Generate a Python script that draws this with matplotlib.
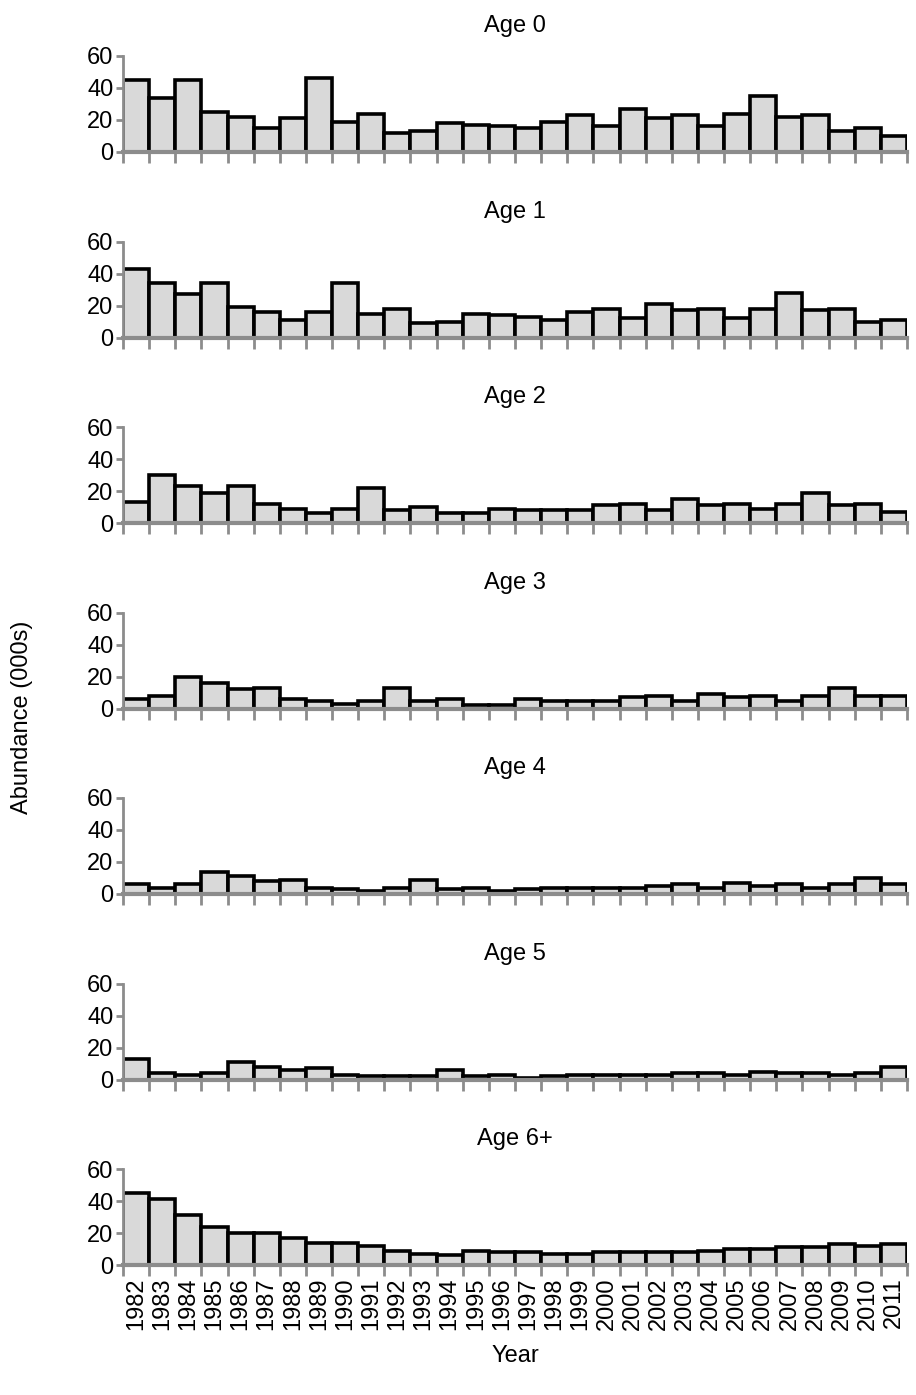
import numpy as np
import matplotlib
matplotlib.use("Agg")
import matplotlib.pyplot as plt

years = list(range(1982, 2012))
ages = ["Age 0", "Age 1", "Age 2", "Age 3", "Age 4", "Age 5", "Age 6+"]
age0 = [45, 34, 45, 25, 22, 15, 21, 46, 19, 24, 12, 13, 18, 17, 16, 15, 19, 23, 16, 27, 21, 23, 16, 24, 35, 22, 23, 13, 15, 10]
age1 = [43, 34, 27, 34, 19, 16, 11, 16, 34, 15, 18, 9, 10, 15, 14, 13, 11, 16, 18, 12, 21, 17, 18, 12, 18, 28, 17, 18, 10, 11]
age2 = [13, 30, 23, 19, 23, 12, 9, 6, 9, 22, 8, 10, 6, 6, 9, 8, 8, 8, 11, 12, 8, 15, 11, 12, 9, 12, 19, 11, 12, 7]
age3 = [6, 8, 20, 16, 12, 13, 6, 5, 3, 5, 13, 5, 6, 2, 2, 6, 5, 5, 5, 7, 8, 5, 9, 7, 8, 5, 8, 13, 8, 8]
age4 = [6, 4, 6, 14, 11, 8, 9, 4, 3, 2, 4, 9, 3, 4, 2, 3, 4, 4, 4, 4, 5, 6, 4, 7, 5, 6, 4, 6, 10, 6]
age5 = [13, 4, 3, 4, 11, 8, 6, 7, 3, 2, 2, 2, 6, 2, 3, 1, 2, 3, 3, 3, 3, 4, 4, 3, 5, 4, 4, 3, 4, 8]
age6 = [45, 41, 31, 24, 20, 20, 17, 14, 14, 12, 9, 7, 6, 9, 8, 8, 7, 7, 8, 8, 8, 8, 9, 10, 10, 11, 11, 13, 12, 13]
series = [age0, age1, age2, age3, age4, age5, age6]

plt.rcParams.update({"font.family": ["Liberation Sans", "DejaVu Sans"]})
GREY = "#8c8c8c"
FS = 17
W, H = 916, 1395
fig = plt.figure(figsize=(W / 100, H / 100), dpi=100)

x = np.arange(len(years))
for i, (name, vals) in enumerate(zip(ages, series)):
    bot = 152 + 185.5 * i
    ax = fig.add_axes([123 / W, 1 - bot / H, 784 / W, 96 / H])
    ax.bar(x, vals, width=1.0, color="#d9d9d9", edgecolor="black", linewidth=2.6)
    ax.set_xlim(-0.5, len(years) - 0.5)
    ax.set_ylim(0, 60)
    ax.set_yticks([0, 20, 40, 60])
    ax.tick_params(axis="y", labelsize=FS, length=5, width=2, color=GREY, pad=2)
    ax.set_xticks(np.arange(-0.5, len(years)), minor=True)
    ax.tick_params(axis="x", which="minor", length=8, width=2, color=GREY, direction="out")
    ax.set_xticks(x)
    if i == len(ages) - 1:
        ax.set_xticklabels([str(y) for y in years], rotation=90, fontsize=FS)
        ax.tick_params(axis="x", which="major", length=0, pad=9)
    else:
        ax.set_xticklabels([])
        ax.tick_params(axis="x", which="major", length=0)
    for s in ("top", "right"):
        ax.spines[s].set_visible(False)
    ax.spines["left"].set_color(GREY)
    ax.spines["left"].set_linewidth(2)
    ax.spines["bottom"].set_color(GREY)
    ax.spines["bottom"].set_linewidth(3)
    ax.set_title(name, fontsize=FS, pad=17)

fig.text(22 / W, 0.5 - 20 / H, "Abundance (000s)", rotation=90, fontsize=FS, ha="center", va="center")
fig.text(515 / W, 1 - 1356 / H, "Year", fontsize=FS, ha="center", va="center")
fig.savefig("out.png", dpi=100, facecolor="white")
